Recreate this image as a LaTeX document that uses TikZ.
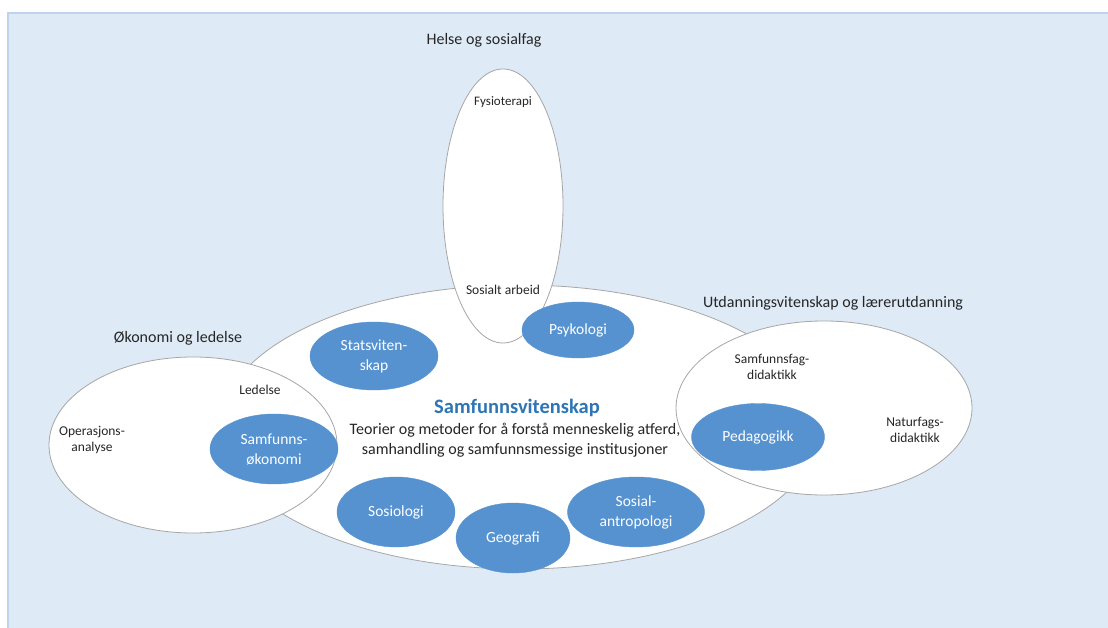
\documentclass[tikz,border=0pt]{standalone}
\usepackage{fontspec}
\setmainfont{Carlito}
\usetikzlibrary{shapes.geometric}

\definecolor{bgblue}{HTML}{DEEAF6}
\definecolor{bgline}{HTML}{BDD4EE}
\definecolor{fagblue}{HTML}{5592CF}
\definecolor{titleblue}{HTML}{2E75B6}
\definecolor{textgray}{HTML}{262626}
\definecolor{rimgray}{HTML}{A6A6A6}

\tikzset{
  area/.style={ellipse, draw=rimgray, fill=white, line width=0.8pt, inner sep=0pt},
  fag/.style={ellipse, fill=fagblue, draw=fagblue, text=white, inner sep=0pt,
    align=center, font=\fontsize{15.5}{20}\selectfont},
  lbl/.style={text=textgray, align=center, inner sep=1pt, font=\fontsize{13.5}{16}\selectfont},
  head/.style={text=textgray, align=center, inner sep=1pt, font=\fontsize{16}{20}\selectfont}
}

\begin{document}
\begin{tikzpicture}[x=1pt, y=-1pt]
    \useasboundingbox (0,0) rectangle (1108,628);
    \fill[bgblue] (8,13) rectangle (1108,628);
    \draw[bgline, line width=1.2pt] (8,628) -- (8,13) -- (1108,13);

    % fields
    \node[area, minimum width=600, minimum height=284] (samf) at (520,427) {};
    \node[area, minimum width=120, minimum height=274] (helse) at (503,206) {};
    \node[area, minimum width=288, minimum height=176] (okon) at (193,445) {};
    \node[area, minimum width=296, minimum height=174] (utd) at (824,408) {};

    % headings
    \node[head] (helseT) at (484,40) {Helse og sosialfag};
    \node[head] (okonT) at (178,338) {Økonomi og ledelse};
    \node[head] (utdT) at (833,303) {Utdanningsvitenskap og lærerutdanning};
    \node[text=titleblue, inner sep=1pt, font=\fontsize{20.5}{24}\selectfont\bfseries] (samfT) at (517,408) {Samfunnsvitenskap};
    \node[head] (samfD) at (515,440) {Teorier og metoder for å forstå menneskelig atferd,\\samhandling og samfunnsmessige institusjoner};

    % plain labels
    \node[lbl, font=\fontsize{13}{15}\selectfont] (fysio) at (503,102) {Fysioterapi};
    \node[lbl] (sosarb) at (503,290) {Sosialt arbeid};
    \node[lbl] (ledelse) at (260,390) {Ledelse};
    \node[lbl] (operasjon) at (92,440) {Operasjons-\\analyse};
    \node[lbl] (samfdid) at (772,367) {Samfunnsfag-\\didaktikk};
    \node[lbl] (natdid) at (915,430) {Naturfags-\\didaktikk};

    % disciplines
    \node[fag, minimum width=112, minimum height=56] (psyk) at (578,330) {Psykologi};
    \node[fag, minimum width=128, minimum height=68] (stats) at (374,356) {Statsviten-\\skap};
    \node[fag, minimum width=128, minimum height=70] (samok) at (274,449) {Samfunns-\\økonomi};
    \node[fag, minimum width=133, minimum height=67] (ped) at (758,437) {Pedagogikk};
    \node[fag, minimum width=118, minimum height=70] (sosio) at (396,512) {Sosiologi};
    \node[fag, minimum width=114, minimum height=70] (geo) at (513,538) {Geografi};
    \node[fag, minimum width=137, minimum height=70] (sosant) at (636,512) {Sosial-\\antropologi};
\end{tikzpicture}
\end{document}
